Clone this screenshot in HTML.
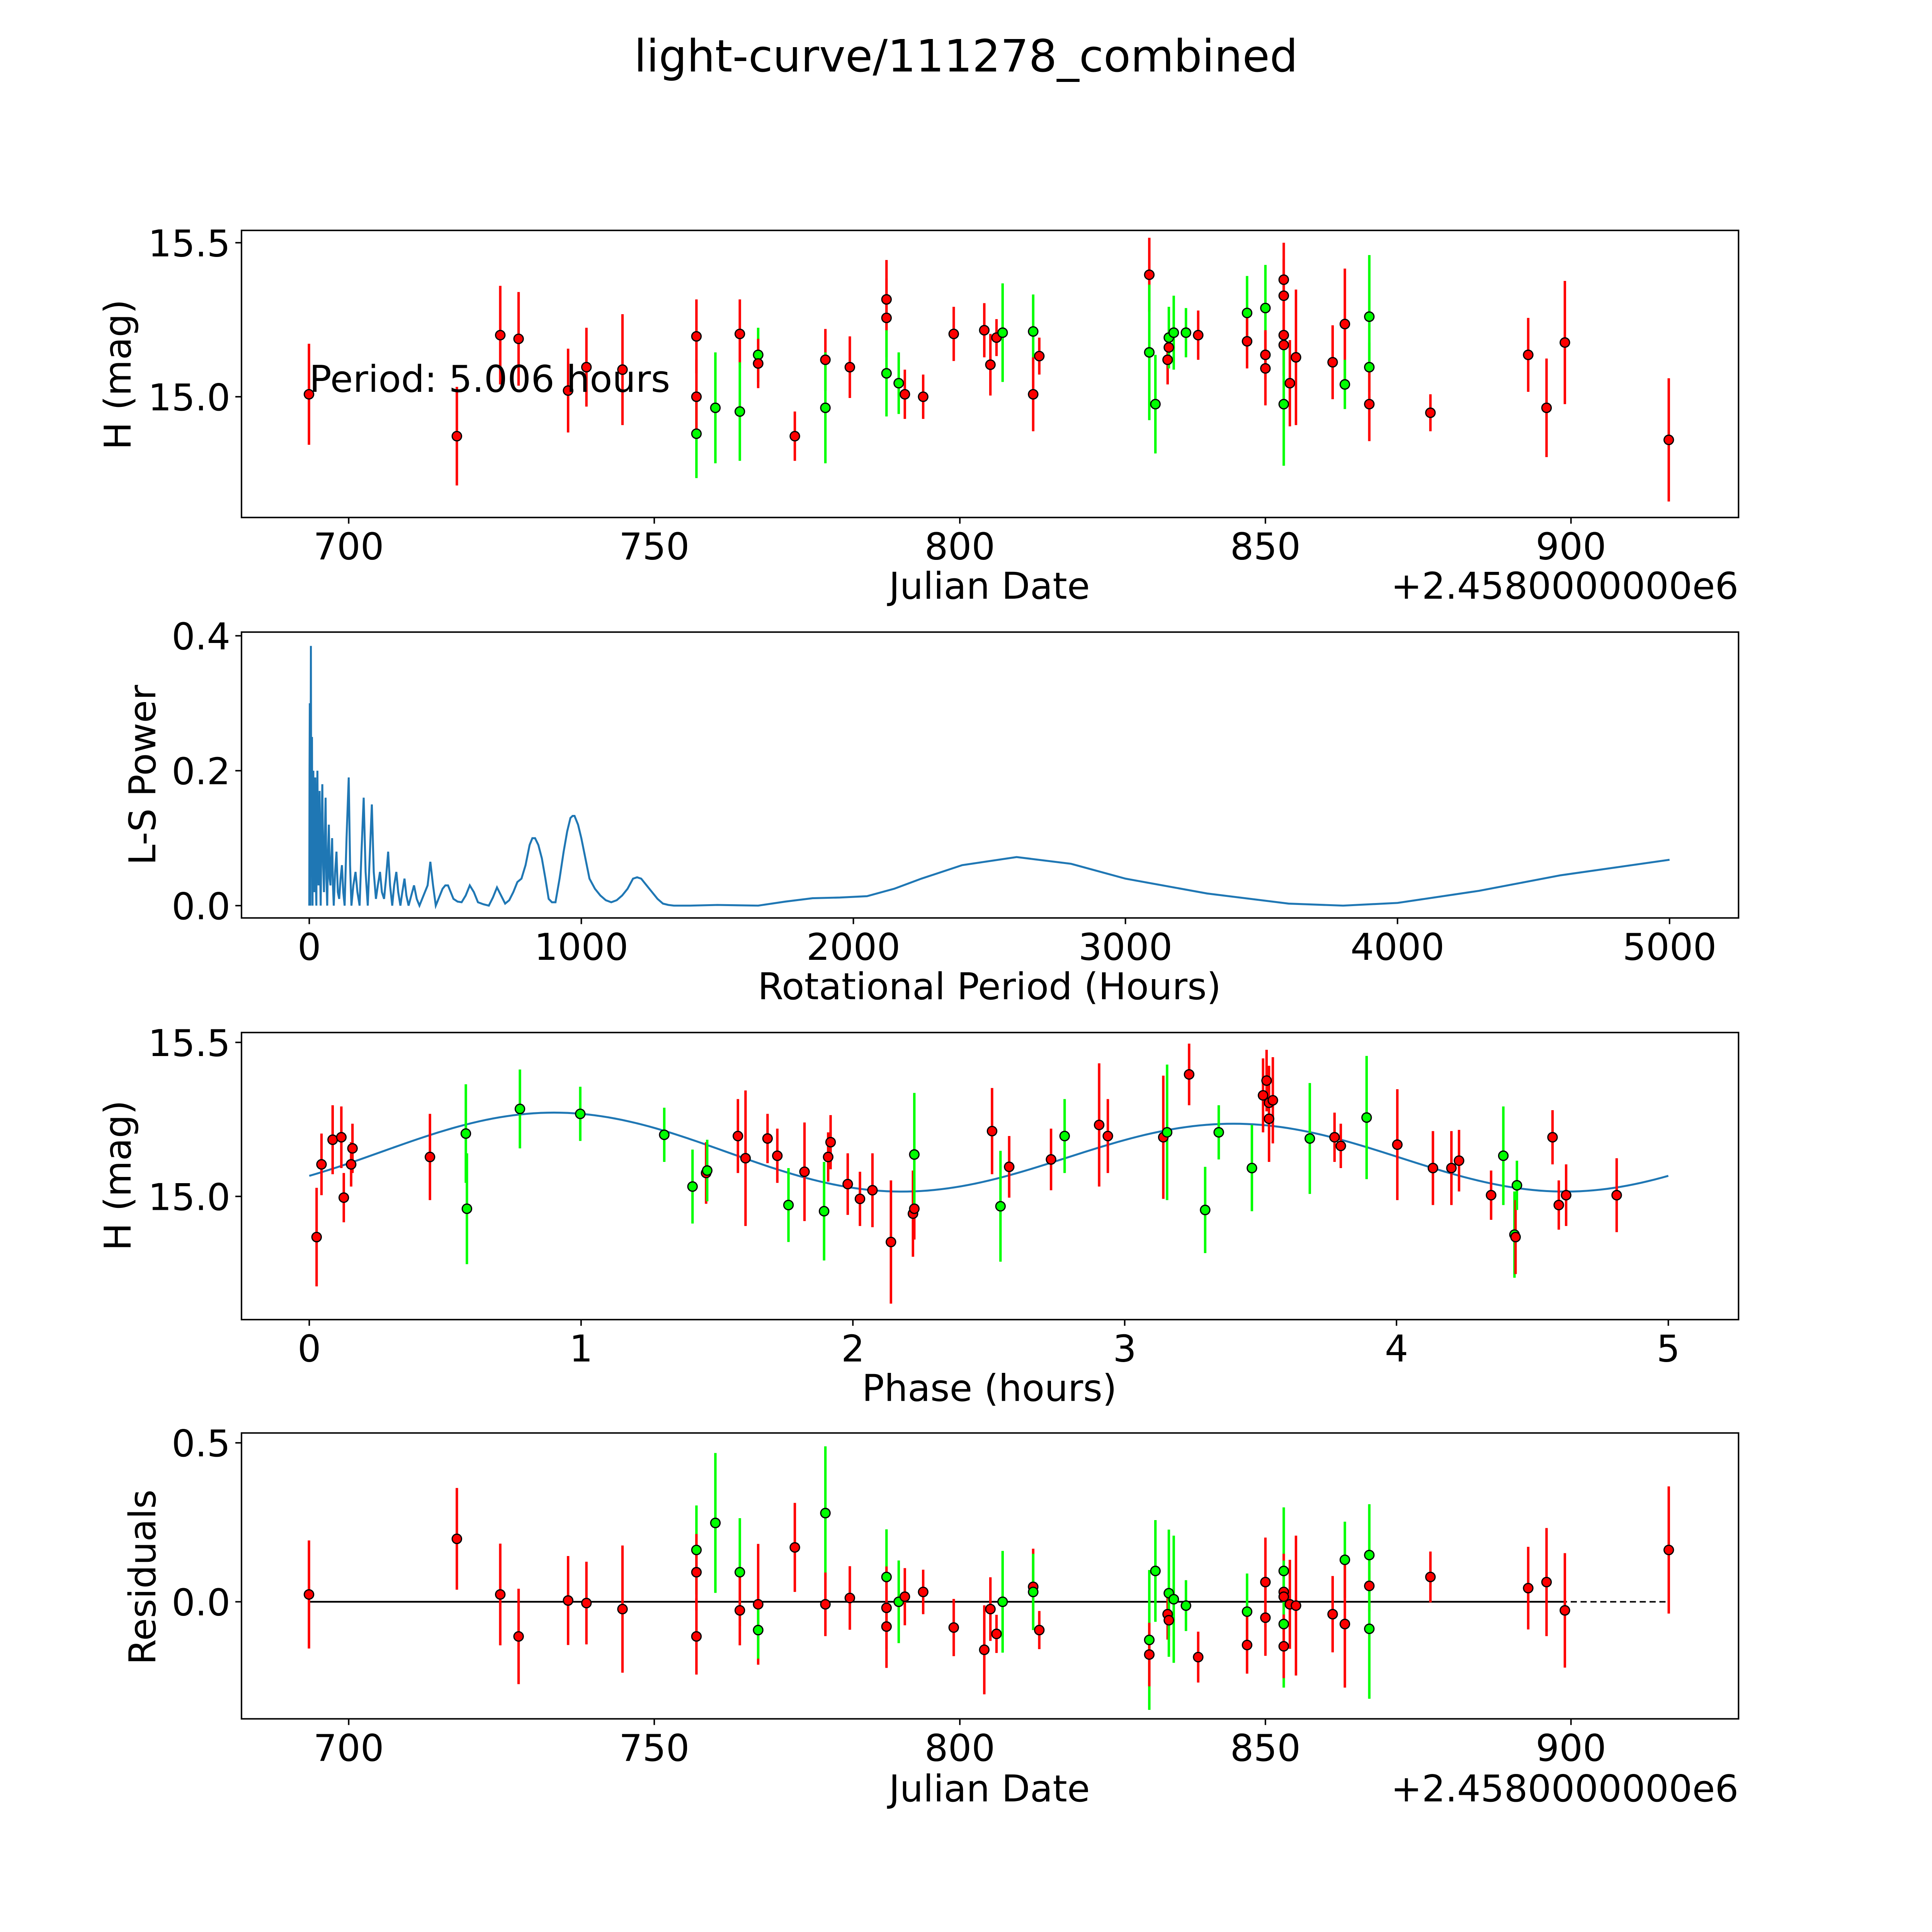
<!DOCTYPE html>
<html><head><meta charset="utf-8"><style>
html,body{margin:0;padding:0;background:#fff;overflow:hidden;width:100%;height:100%;}
svg{display:block;position:absolute;left:0;top:0;width:100vw;height:100vh;font-family:"DejaVu Sans","Liberation Sans",sans-serif;}
</style></head><body>
<svg id="fig" viewBox="0 0 1568 1568" preserveAspectRatio="none" xmlns="http://www.w3.org/2000/svg">
<rect width="1568" height="1568" fill="#fff"/>
<text x="784" y="58" font-size="36" text-anchor="middle">light-curve/111278_combined</text>
<g id="p1"></g>
<g id="p2"></g>
<g id="p3"></g>
<g id="p4"></g>
</svg>
<script>
// ---- light curve data (date offset from 2458000, mag, err, filter color) ----
const lcDates=[693.5,717.7,724.8,727.8,735.9,738.9,744.8,756.9,756.9,756.9,760.0,764.0,764.0,767.0,767.0,773.0,778.0,778.0,782.0,788.0,788.0,788.0,790.0,791.0,794.0,799.0,804.0,805.0,806.0,807.0,812.0,812.0,813.0,831.0,831.0,832.0,834.0,834.2,834.2,835.0,837.0,839.0,847.0,847.0,850.0,850.0,850.0,853.0,853.0,853.0,853.0,853.0,854.0,855.0,861.0,863.0,863.0,867.0,867.0,867.0,877.0,893.0,896.0,899.0,916.0];
const lcMags=[15.008,14.872,15.2,15.188,15.02,15.096,15.088,14.88,15.196,15.0,14.964,15.204,14.952,15.136,15.108,14.872,15.12,14.964,15.096,15.316,15.256,15.076,15.044,15.008,15.0,15.204,15.216,15.104,15.192,15.208,15.212,15.008,15.132,15.396,15.144,14.976,15.12,15.16,15.192,15.208,15.208,15.2,15.272,15.18,15.288,15.136,15.092,15.38,15.328,15.2,15.168,14.976,15.044,15.128,15.112,15.236,15.04,15.26,15.096,14.976,14.948,15.136,14.964,15.176,14.86];
const lcErrs=[0.164,0.16,0.16,0.152,0.136,0.128,0.18,0.144,0.12,0.12,0.18,0.112,0.16,0.088,0.08,0.08,0.1,0.18,0.1,0.128,0.128,0.14,0.1,0.08,0.072,0.088,0.088,0.1,0.06,0.16,0.12,0.12,0.06,0.12,0.22,0.16,0.08,0.048,0.1,0.12,0.08,0.08,0.12,0.088,0.14,0.08,0.12,0.12,0.12,0.1,0.1,0.2,0.14,0.22,0.12,0.18,0.08,0.2,0.08,0.12,0.06,0.12,0.16,0.2,0.2];
const lcColors=["r","r","r","r","r","r","r","g","r","r","g","r","g","g","r","r","r","g","r","r","r","g","g","r","r","r","r","r","r","g","g","r","r","r","g","g","r","r","g","g","g","r","g","r","g","r","r","r","r","r","r","g","r","r","r","r","g","g","g","r","r","r","r","r","r"];
const periodText="Period: 5.006 hours";
// ---- periodogram ----
const lsPeriods=[0,1,2,3,4,5,6,7,8,9,10,11,12,13,15,16,18,20,22,24,26,28,30,32,34,36,38,40,42,45,48,51,54,57,60,63,66,69,72,75,78,81,84,87,90,95,100,105,110,115,120,125,130,137,145,150,155,162,170,177,185,192,200,207,215,222,230,237,245,252,260,267,275,282,290,297,305,312,320,327,335,342,350,357,365,375,385,395,405,415,425,435,445,455,465,477,490,500,510,520,530,545,560,575,590,605,620,640,660,675,690,705,720,735,750,765,780,795,810,820,830,842,855,868,880,892,905,920,935,948,960,968,975,988,1000,1015,1030,1050,1070,1090,1110,1130,1150,1170,1190,1205,1220,1240,1260,1280,1300,1320,1340,1400,1500,1650,1750,1850,1950,2050,2150,2250,2400,2600,2800,3000,3300,3600,3800,4000,4300,4600,5000];
const lsPower=[0,0.2,0.30,0.1,0,0.2,0.385,0.15,0.05,0.12,0.25,0.08,0,0.17,0.2,0.05,0.02,0.15,0.19,0.04,0,0.13,0.2,0.06,0.03,0.1,0.17,0.05,0,0.12,0.18,0.06,0.02,0.1,0.16,0.04,0,0.08,0.12,0.04,0.03,0.07,0.1,0.03,0,0.05,0.08,0.02,0.01,0.04,0.06,0.02,0,0.1,0.19,0.06,0,0.03,0.05,0.02,0,0.08,0.16,0.05,0,0.07,0.15,0.05,0.01,0.03,0.05,0.02,0.01,0.04,0.08,0.03,0,0.03,0.05,0.02,0,0.02,0.04,0.015,0,0.015,0.03,0.01,0,0.01,0.02,0.03,0.065,0.03,0,0.012,0.025,0.03,0.03,0.02,0.01,0.006,0.005,0.015,0.03,0.02,0.005,0.002,0,0.012,0.027,0.015,0.003,0.008,0.02,0.035,0.04,0.06,0.09,0.1,0.1,0.09,0.07,0.04,0.01,0.005,0.005,0.04,0.08,0.11,0.13,0.133,0.133,0.12,0.1,0.07,0.04,0.025,0.015,0.008,0.005,0.008,0.015,0.025,0.04,0.042,0.04,0.03,0.02,0.01,0.003,0.001,0,0,0.001,0,0.006,0.011,0.012,0.014,0.025,0.04,0.06,0.072,0.062,0.04,0.018,0.003,0,0.004,0.022,0.045,0.068];
// ---- phase-folded ----
const phPhases=[0.027,0.045,0.086,0.118,0.127,0.154,0.159,0.444,0.576,0.580,0.775,0.997,1.306,1.410,1.460,1.464,1.577,1.605,1.686,1.722,1.763,1.822,1.894,1.909,1.918,1.981,2.026,2.072,2.140,2.221,2.226,2.226,2.512,2.543,2.575,2.729,2.779,2.906,2.938,3.142,3.156,3.237,3.296,3.346,3.468,3.509,3.522,3.531,3.531,3.545,3.681,3.772,3.795,3.890,4.003,4.134,4.202,4.230,4.348,4.393,4.434,4.438,4.443,4.574,4.597,4.624,4.810];
const phMags=[14.868,15.104,15.184,15.192,14.996,15.104,15.156,15.128,15.204,14.96,15.284,15.268,15.2,15.032,15.076,15.084,15.196,15.124,15.188,15.132,14.972,15.08,14.952,15.128,15.176,15.04,14.992,15.02,14.852,14.944,14.96,15.136,15.212,14.968,15.096,15.12,15.196,15.232,15.196,15.192,15.208,15.396,14.956,15.208,15.092,15.328,15.376,15.252,15.304,15.312,15.188,15.192,15.164,15.256,15.168,15.092,15.092,15.116,15.004,15.132,14.876,14.868,15.036,15.192,14.972,15.004,15.004];
const phErrs=[0.16,0.1,0.112,0.1,0.08,0.072,0.08,0.14,0.16,0.18,0.128,0.088,0.088,0.12,0.1,0.1,0.12,0.22,0.08,0.088,0.12,0.16,0.16,0.08,0.088,0.1,0.088,0.12,0.2,0.14,0.1,0.2,0.14,0.18,0.1,0.1,0.12,0.2,0.12,0.2,0.22,0.1,0.14,0.088,0.14,0.12,0.1,0.14,0.12,0.14,0.18,0.08,0.072,0.2,0.18,0.12,0.12,0.1,0.08,0.16,0.14,0.12,0.08,0.088,0.08,0.1,0.12];
const phColors=["r","r","r","r","r","r","r","r","g","g","g","g","g","g","r","g","r","r","r","r","g","r","g","r","r","r","r","r","r","r","r","g","r","g","r","r","g","r","r","r","g","r","g","g","g","r","r","r","r","r","g","r","r","g","r","r","r","r","r","g","g","r","g","r","r","r","r"];
const modelMean=15.135, modelAmp=0.119, modelHarm=0.018;
// ---- residuals ----
const resDates=[693.5,717.7,724.8,727.8,735.9,738.9,744.8,756.9,756.9,756.9,760.0,764.0,764.0,767.0,767.0,773.0,778.0,778.0,782.0,788.0,788.0,788.0,790.0,791.0,794.0,799.0,804.0,805.0,806.0,807.0,812.0,812.0,813.0,831.0,831.0,832.0,834.0,834.2,834.2,835.0,837.0,839.0,847.0,847.0,850.0,850.0,853.0,853.0,853.0,853.0,853.0,854.0,855.0,861.0,863.0,863.0,867.0,867.0,867.0,877.0,893.0,896.0,899.0,916.0];
const resVals=[0.023,0.198,0.023,-0.109,0.004,-0.004,-0.023,0.163,0.093,-0.109,0.248,0.093,-0.027,-0.008,-0.089,0.171,0.279,-0.008,0.012,0.078,-0.019,-0.078,0.0,0.016,0.031,-0.081,-0.151,-0.023,-0.101,0.0,0.047,0.031,-0.089,-0.12,-0.166,0.097,-0.039,-0.058,0.027,0.008,-0.012,-0.174,-0.031,-0.136,0.062,-0.05,0.097,0.031,0.016,-0.07,-0.140,-0.008,-0.012,-0.039,0.132,-0.070,0.147,0.05,-0.085,0.078,0.043,0.062,-0.027,0.163];
const resErrs=[0.17,0.16,0.16,0.15,0.14,0.13,0.2,0.14,0.12,0.12,0.22,0.17,0.11,0.19,0.09,0.14,0.21,0.1,0.1,0.15,0.13,0.13,0.13,0.09,0.07,0.09,0.14,0.1,0.06,0.16,0.12,0.12,0.06,0.22,0.1,0.16,0.08,0.05,0.2,0.2,0.08,0.08,0.12,0.09,0.14,0.12,0.2,0.12,0.1,0.2,0.1,0.14,0.22,0.12,0.12,0.2,0.16,0.08,0.22,0.08,0.13,0.17,0.18,0.2];
const resColors=["r","r","r","r","r","r","r","g","r","r","g","g","r","r","g","r","g","r","r","g","r","r","g","r","r","r","r","r","r","g","r","g","r","g","r","g","r","r","g","g","g","r","g","r","r","r","g","r","r","g","r","r","r","r","g","r","g","r","g","r","r","r","r","r"];
// ---- ticks ----
const jdTicks=[700,750,800,850,900];
const lcYTicks=[15.0,15.5];
const lsXTicks=[0,1000,2000,3000,4000,5000];
const lsYTicks=[0.0,0.2,0.4];
const phXTicks=[0,1,2,3,4,5];
const resYTicks=[0.0,0.5];

const NS="http://www.w3.org/2000/svg";
const FS=30;
function mk(parent,tag,attrs,text){const e=document.createElementNS(NS,tag);for(const k in attrs)e.setAttribute(k,attrs[k]);if(text!==undefined)e.textContent=text;parent.appendChild(e);return e;}
const COL={r:"#ff0000",g:"#00ff00"};
const L=196,R=1411;
function axisFrame(g,top,bot){const r=mk(g,"rect",{x:L,y:top,width:R-L,height:bot-top,fill:"none",stroke:"#000","stroke-width":1.2});}
function xticks(g,bot,ticks,sx,fmt){ticks.forEach(t=>{const x=sx(t);const l=mk(g,"line",{x1:x,x2:x,y1:bot,y2:bot+5,stroke:"#000","stroke-width":1.2});const tx=mk(g,"text",{x:x,y:bot+34,"font-size":FS,"text-anchor":"middle"},fmt(t));});}
function yticks(g,ticks,sy,fmt){ticks.forEach(t=>{const y=sy(t);const l=mk(g,"line",{x1:L-5,x2:L,y1:y,y2:y,stroke:"#000","stroke-width":1.2});const tx=mk(g,"text",{x:L-9,y:y+11,"font-size":FS,"text-anchor":"end"},fmt(t));});}
function xlabel(g,x,y,s){const t=mk(g,"text",{x:x,y:y,"font-size":FS,"text-anchor":"middle"},s);}
function ylabel(g,x,y,s){const t=mk(g,"text",{x:0,y:0,"font-size":FS,"text-anchor":"middle",transform:`translate(${x},${y}) rotate(-90)`},s);}
function points(g,xs,ys,es,cs,sx,sy){xs.forEach((v,i)=>{const x=sx(v);const b=mk(g,"line",{x1:x,x2:x,y1:sy(ys[i]+es[i]),y2:sy(ys[i]-es[i]),stroke:COL[cs[i]],"stroke-width":2});});
 xs.forEach((v,i)=>{const c=mk(g,"circle",{cx:sx(v),cy:sy(ys[i]),r:3.8,fill:COL[cs[i]],stroke:"#000","stroke-width":1});});}
const fmtJD=t=>String(t), fmt1=t=>t.toFixed(1);

// Panel 1
{const g=document.getElementById('p1');const top=187,bot=420;
 const sx=d=>283+(d-700)*4.96, sy=m=>322-(m-15)*250;
 axisFrame(g,top,bot);xticks(g,bot,jdTicks,sx,fmtJD);yticks(g,lcYTicks,sy,fmt1);
 points(g,lcDates,lcMags,lcErrs,lcColors,sx,sy);
 const pt=mk(g,"text",{x:251,y:318,"font-size":FS},periodText);
 xlabel(g,803,486,"Julian Date");ylabel(g,106,304,"H (mag)");
 const o=mk(g,"text",{x:1411,y:486,"font-size":FS,"text-anchor":"end"},"+2.4580000000e6");}
// Panel 2
{const g=document.getElementById('p2');const top=513,bot=745;
 const sx=p=>251+p*0.2208, sy=v=>735-v*547.5;
 axisFrame(g,top,bot);xticks(g,bot,lsXTicks,sx,t=>String(t));yticks(g,lsYTicks,sy,fmt1);
 const d=lsPeriods.map((p,i)=>(i?"L":"M")+sx(p).toFixed(2)+","+sy(lsPower[i]).toFixed(2)).join("");
 const pl=mk(g,"path",{d:d,fill:"none",stroke:"#1f77b4","stroke-width":1.6});
 xlabel(g,803,811,"Rotational Period (Hours)");ylabel(g,126,629,"L-S Power");}
// Panel 3
{const g=document.getElementById('p3');const top=838,bot=1071;
 const sx=p=>251+p*220.6, sy=m=>971-(m-15)*250;
 axisFrame(g,top,bot);xticks(g,bot,phXTicks,sx,t=>String(t));yticks(g,lcYTicks,sy,fmt1);
 let d="";for(let i=0;i<=200;i++){const p=5*i/200;const m=modelMean+modelAmp*Math.sin(2*Math.PI*(p-0.275)/2.5)+modelHarm*Math.cos(2*Math.PI*(p-0.9)/5);d+=(i?"L":"M")+sx(p).toFixed(2)+","+sy(m).toFixed(2);}
 const ml=mk(g,"path",{d:d,fill:"none",stroke:"#1f77b4","stroke-width":1.6});
 points(g,phPhases,phMags,phErrs,phColors,sx,sy);
 xlabel(g,803,1137,"Phase (hours)");ylabel(g,106,954,"H (mag)");}
// Panel 4
{const g=document.getElementById('p4');const top=1163,bot=1395;
 const sx=d=>283+(d-700)*4.96, sy=v=>1300-v*258;
 axisFrame(g,top,bot);xticks(g,bot,jdTicks,sx,fmtJD);yticks(g,resYTicks,sy,fmt1);
 const zl=mk(g,"line",{x1:sx(693.5),x2:sx(916),y1:sy(0),y2:sy(0),stroke:"#000","stroke-width":1.2,"stroke-dasharray":"5,3"});
 const zs=mk(g,"line",{x1:sx(693.5),x2:sx(899),y1:sy(0),y2:sy(0),stroke:"#000","stroke-width":1.4});
 points(g,resDates,resVals,resErrs,resColors,sx,sy);
 xlabel(g,803,1462,"Julian Date");ylabel(g,126,1280,"Residuals");
 const o=mk(g,"text",{x:1411,y:1462,"font-size":FS,"text-anchor":"end"},"+2.4580000000e6");}
</script>
</body></html>
